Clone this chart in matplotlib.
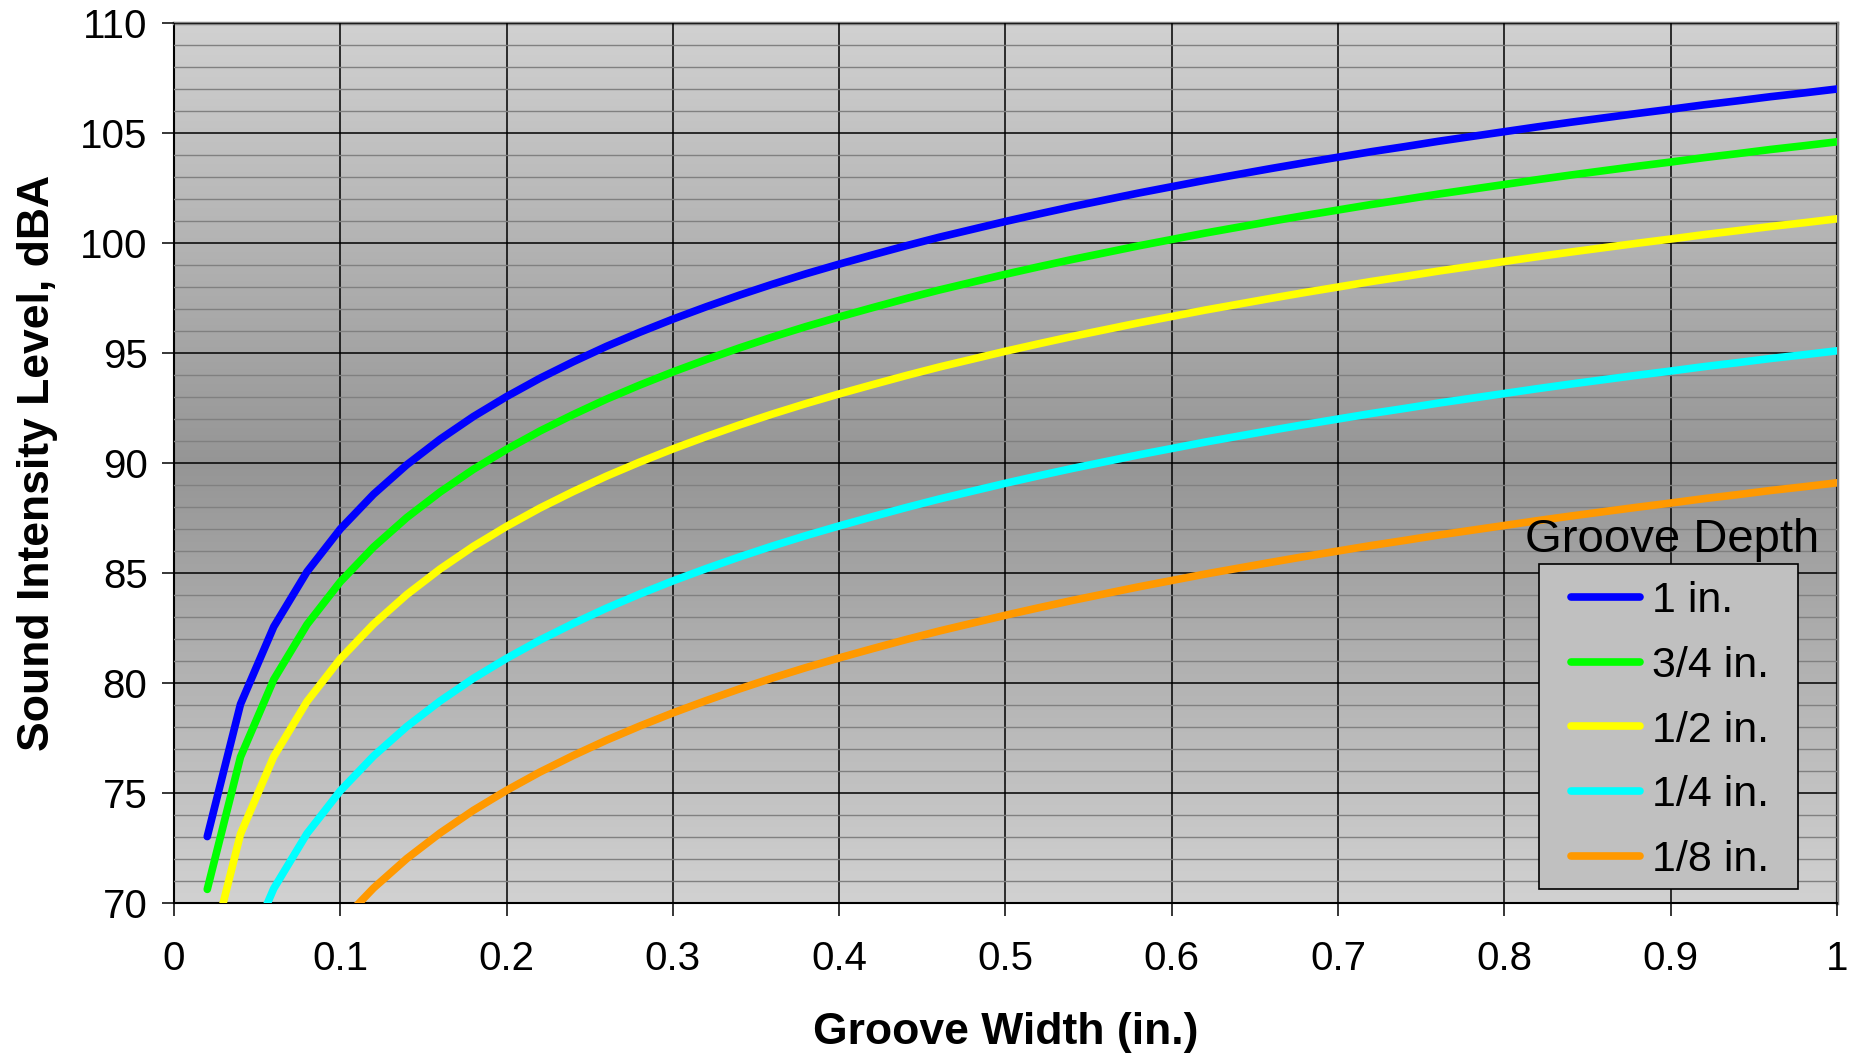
import numpy as np
import matplotlib
matplotlib.use("Agg")
import matplotlib.pyplot as plt
from matplotlib.ticker import MultipleLocator
from matplotlib.patches import Rectangle

plt.rcParams['font.family'] = ['Liberation Sans', 'DejaVu Sans']

# groove width (in.)
width = [0.02, 0.04, 0.06, 0.08, 0.10, 0.12, 0.14, 0.16, 0.18, 0.20,
         0.22, 0.24, 0.26, 0.28, 0.30, 0.32, 0.34, 0.36, 0.38, 0.40,
         0.42, 0.44, 0.46, 0.48, 0.50, 0.52, 0.54, 0.56, 0.58, 0.60,
         0.62, 0.64, 0.66, 0.68, 0.70, 0.72, 0.74, 0.76, 0.78, 0.80,
         0.82, 0.84, 0.86, 0.88, 0.90, 0.92, 0.94, 0.96, 0.98, 1.00]

# sound intensity level (dBA) per groove depth
d_1 = [73.02, 79.04, 82.56, 85.06, 87.00, 88.58, 89.92, 91.08, 92.11, 93.02,
       93.85, 94.60, 95.30, 95.94, 96.54, 97.10, 97.63, 98.13, 98.60, 99.04,
       99.46, 99.87, 100.26, 100.62, 100.98, 101.32, 101.65, 101.96, 102.27, 102.56,
       102.85, 103.12, 103.39, 103.65, 103.90, 104.15, 104.38, 104.62, 104.84, 105.06,
       105.28, 105.49, 105.69, 105.89, 106.08, 106.28, 106.46, 106.65, 106.82, 107.00]
d_34 = [70.62, 76.64, 80.16, 82.66, 84.60, 86.18, 87.52, 88.68, 89.71, 90.62,
        91.45, 92.20, 92.90, 93.54, 94.14, 94.70, 95.23, 95.73, 96.20, 96.64,
        97.06, 97.47, 97.86, 98.22, 98.58, 98.92, 99.25, 99.56, 99.87, 100.16,
        100.45, 100.72, 100.99, 101.25, 101.50, 101.75, 101.98, 102.22, 102.44, 102.66,
        102.88, 103.09, 103.29, 103.49, 103.68, 103.88, 104.06, 104.25, 104.42, 104.60]
d_12 = [67.12, 73.14, 76.66, 79.16, 81.10, 82.68, 84.02, 85.18, 86.21, 87.12,
        87.95, 88.70, 89.40, 90.04, 90.64, 91.20, 91.73, 92.23, 92.70, 93.14,
        93.56, 93.97, 94.36, 94.72, 95.08, 95.42, 95.75, 96.06, 96.37, 96.66,
        96.95, 97.22, 97.49, 97.75, 98.00, 98.25, 98.48, 98.72, 98.94, 99.16,
        99.38, 99.59, 99.79, 99.99, 100.18, 100.38, 100.56, 100.75, 100.92, 101.10]
d_14 = [61.12, 67.14, 70.66, 73.16, 75.10, 76.68, 78.02, 79.18, 80.21, 81.12,
        81.95, 82.70, 83.40, 84.04, 84.64, 85.20, 85.73, 86.23, 86.70, 87.14,
        87.56, 87.97, 88.36, 88.72, 89.08, 89.42, 89.75, 90.06, 90.37, 90.66,
        90.95, 91.22, 91.49, 91.75, 92.00, 92.25, 92.48, 92.72, 92.94, 93.16,
        93.38, 93.59, 93.79, 93.99, 94.18, 94.38, 94.56, 94.75, 94.92, 95.10]
d_18 = [55.12, 61.14, 64.66, 67.16, 69.10, 70.68, 72.02, 73.18, 74.21, 75.12,
        75.95, 76.70, 77.40, 78.04, 78.64, 79.20, 79.73, 80.23, 80.70, 81.14,
        81.56, 81.97, 82.36, 82.72, 83.08, 83.42, 83.75, 84.06, 84.37, 84.66,
        84.95, 85.22, 85.49, 85.75, 86.00, 86.25, 86.48, 86.72, 86.94, 87.16,
        87.38, 87.59, 87.79, 87.99, 88.18, 88.38, 88.56, 88.75, 88.92, 89.10]

labels = ['1 in.', '3/4 in.', '1/2 in.', '1/4 in.', '1/8 in.']
series = [d_1, d_34, d_12, d_14, d_18]
colors = ['#0000FF', '#00FF00', '#FFFF00', '#00FFFF', '#FF9900']
xtick_labels = ['0', '0.1', '0.2', '0.3', '0.4', '0.5', '0.6', '0.7',
                '0.8', '0.9', '1']

W, H = 1858, 1055
fig = plt.figure(figsize=(W / 100, H / 100), dpi=100)
ax = fig.add_axes([174 / W, 1 - 903 / H, (1837 - 174) / W, (903 - 23) / H])

# grey gradient background: light at top/bottom, dark in the middle
t = np.linspace(0, 1, 256)
g = 0.82 - (0.82 - 0.585) * (1 - np.abs(2 * t - 1))
grad = np.stack([g, g, g], axis=-1)[:, None, :]
ax.imshow(grad, extent=[0, 1, 70, 110], aspect='auto', zorder=0,
          interpolation='bilinear', origin='upper')

for ys, c, lab in zip(series, colors, labels):
    ax.plot(width, ys, color=c, lw=5.5, label=lab, solid_capstyle='round',
            solid_joinstyle='round', zorder=3)

ax.set_xlim(0, 1)
ax.set_ylim(70, 110)
ax.yaxis.set_major_locator(MultipleLocator(5))
ax.yaxis.set_minor_locator(MultipleLocator(1))
ax.set_xticks([i / 10 for i in range(11)])
ax.set_xticklabels(xtick_labels)

ax.grid(which='major', color='black', lw=1.1, zorder=1)
ax.grid(which='minor', axis='y', color='#808080', lw=1.0, zorder=1)
ax.set_axisbelow(False)
for ln in ax.get_xgridlines() + ax.get_ygridlines():
    ln.set_zorder(1)

ax.tick_params(which='major', length=9, width=1.1, direction='out',
               labelsize=29, pad=10)
ax.tick_params(axis='y', which='minor', length=0)
ax.tick_params(axis='x', pad=18)

ax.spines['left'].set_color('black')
ax.spines['bottom'].set_color('black')
ax.spines['left'].set_linewidth(1.5)
ax.spines['bottom'].set_linewidth(1.5)
ax.spines['top'].set_color('#808080')
ax.spines['right'].set_color('#808080')
ax.spines['top'].set_linewidth(2.5)
ax.spines['right'].set_linewidth(2.5)

ax.set_xlabel('Groove Width (in.)', fontsize=32, fontweight='bold', labelpad=24)
ax.set_ylabel('Sound Intensity Level, dBA', fontsize=32, fontweight='bold',
              labelpad=16)

# legend box drawn by hand (Excel style: title sits above the box)
box = Rectangle((1539 / W, 1 - 889 / H), (1798 - 1539) / W, (889 - 564) / H,
                transform=fig.transFigure, facecolor='#C0C0C0',
                edgecolor='black', lw=1.2, zorder=4, clip_on=False)
ax.add_patch(box)
leg = ax.legend(loc='center left', bbox_to_anchor=(1571 / W, 1 - 730.5 / H),
                bbox_transform=fig.transFigure, fontsize=31, frameon=False,
                handlelength=1.6, handletextpad=0.28, labelspacing=0.57,
                borderpad=0, borderaxespad=0)
leg.set_zorder(5)

fig.text(1672 / W, 1 - 540 / H, 'Groove Depth', fontsize=34,
         ha='center', va='center', zorder=6)

fig.savefig('out.png', dpi=100)
